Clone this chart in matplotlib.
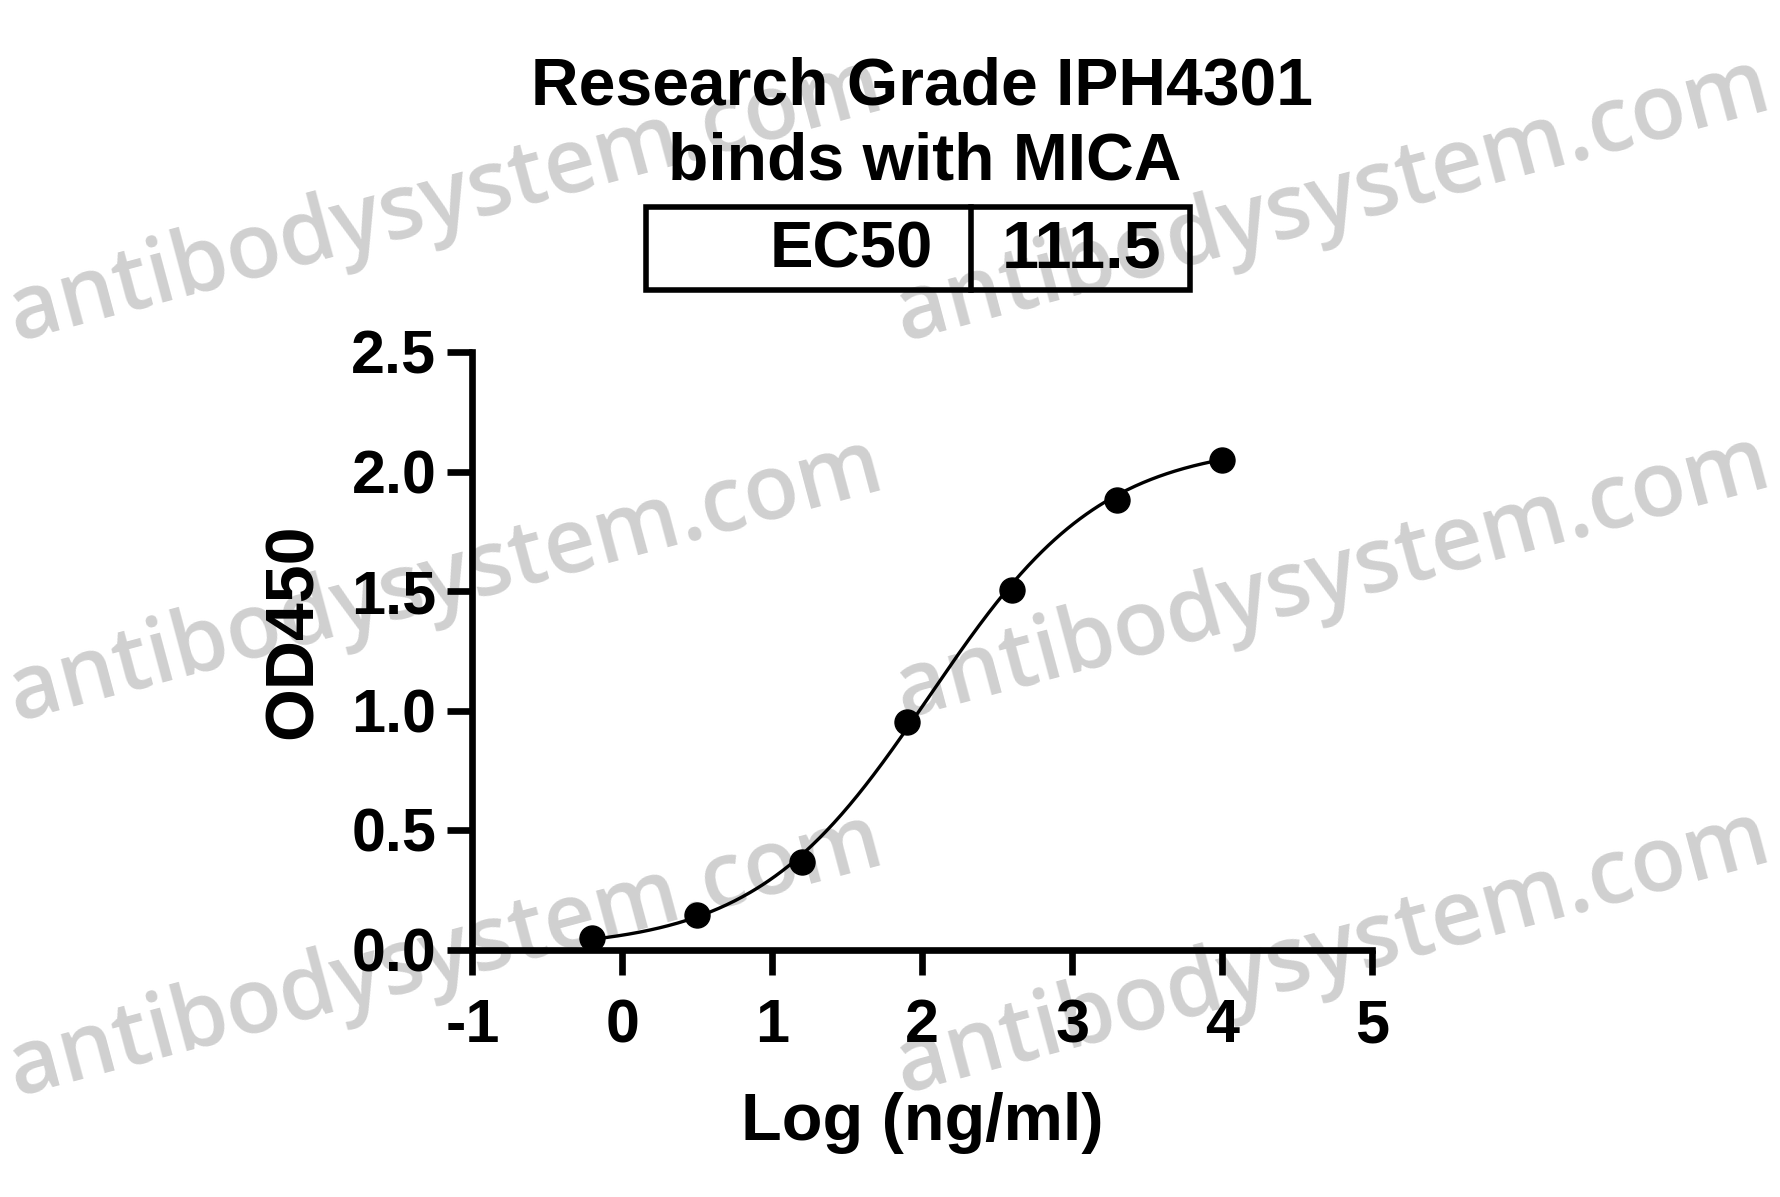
import numpy as np
import matplotlib
matplotlib.use("Agg")
import matplotlib.pyplot as plt
from matplotlib.patches import Rectangle
from matplotlib.lines import Line2D

plt.rcParams['font.family'] = ['Liberation Sans', 'DejaVu Sans']

# data
log_conc = [-0.2, 0.5, 1.2, 1.9, 2.6, 3.3, 4.0]
od450 = [0.05, 0.143, 0.367, 0.952, 1.505, 1.881, 2.048]

# 4PL fit parameters (EC50 from the table)
ec50 = 111.5
bottom, top, hill = 0.0, 2.12, 0.75

x_ticks = [-1, 0, 1, 2, 3, 4, 5]
x_ticklabels = ["-1", "0", "1", "2", "3", "4", "5"]
y_ticks = [0.0, 0.5, 1.0, 1.5, 2.0, 2.5]
y_ticklabels = ["0.0", "0.5", "1.0", "1.5", "2.0", "2.5"]

title_lines = ["Research Grade IPH4301", "binds with MICA"]
watermark = "antibodysystem.com"

W, H = 1781, 1197
fig = plt.figure(figsize=(W / 100, H / 100), dpi=100)

# watermarks (pixel anchors, baseline-left)
wm_pos = [(16, 341), (903, 341), (16, 721), (903, 718), (16, 1096), (903, 1093)]
for px, py in wm_pos:
    fig.text(px / W, 1 - py / H, watermark, fontsize=64.5, color='#d0d0d0',
             family=['Open Sans', 'DejaVu Sans'],
             rotation=15, rotation_mode='anchor', ha='left', va='baseline',
             fontweight='semibold', zorder=-1)

ax = fig.add_axes([472.5 / W, 1 - 949.5 / H, 899.5 / W, 597.5 / H])
ax.patch.set_visible(False)

def four_pl(x):
    return bottom + (top - bottom) / (1 + 10 ** ((np.log10(ec50) - x) * hill))

xs = np.linspace(min(log_conc), max(log_conc), 400)
ax.plot(xs, four_pl(xs), color='black', lw=2.4, clip_on=False)
ax.plot(log_conc, od450, 'o', color='black', ms=18, clip_on=False)

ax.set_xlim(-1, 5)
ax.set_ylim(0, 2.5)
for s in ['top', 'right']:
    ax.spines[s].set_visible(False)
for s in ['left', 'bottom']:
    ax.spines[s].set_linewidth(4.8)
ax.set_xticks(x_ticks, labels=x_ticklabels)
ax.set_yticks(y_ticks, labels=y_ticklabels)
ax.tick_params(axis='both', length=18, width=4.8, labelsize=44)
ax.tick_params(axis='x', pad=17)
ax.tick_params(axis='y', pad=8)
for lab in ax.get_xticklabels() + ax.get_yticklabels():
    lab.set_fontweight('bold')

ax.set_xlabel("Log (ng/ml)", fontsize=48, fontweight='bold')
ax.xaxis.set_label_coords(0.5, -0.2385)
ax.set_ylabel("OD450", fontsize=49, fontweight='bold')
ax.yaxis.set_label_coords(-0.1633, 0.532)

# title
fig.text(922 / W, 1 - 104.5 / H, title_lines[0], fontsize=47.5, fontweight='bold',
         ha='center', va='baseline')
fig.text(924.6 / W, 1 - 179.5 / H, title_lines[1], fontsize=47.5, fontweight='bold',
         ha='center', va='baseline')

# EC50 table
box = Rectangle((646 / W, 1 - 290 / H), (1190 - 646) / W, (290 - 207) / H,
                transform=fig.transFigure, fill=False, lw=4, color='black')
fig.patches.append(box)
fig.lines.append(Line2D([971 / W, 971 / W], [1 - 207 / H, 1 - 290 / H],
                        transform=fig.transFigure, color='black', lw=4))
fig.text(933 / W, 1 - 268 / H, "EC50", fontsize=47, fontweight='bold',
         ha='right', va='baseline')
fig.text(1082 / W, 1 - 268 / H, f"{ec50}", fontsize=48, fontweight='bold',
         ha='center', va='baseline')

fig.savefig('out.png', dpi=100)
